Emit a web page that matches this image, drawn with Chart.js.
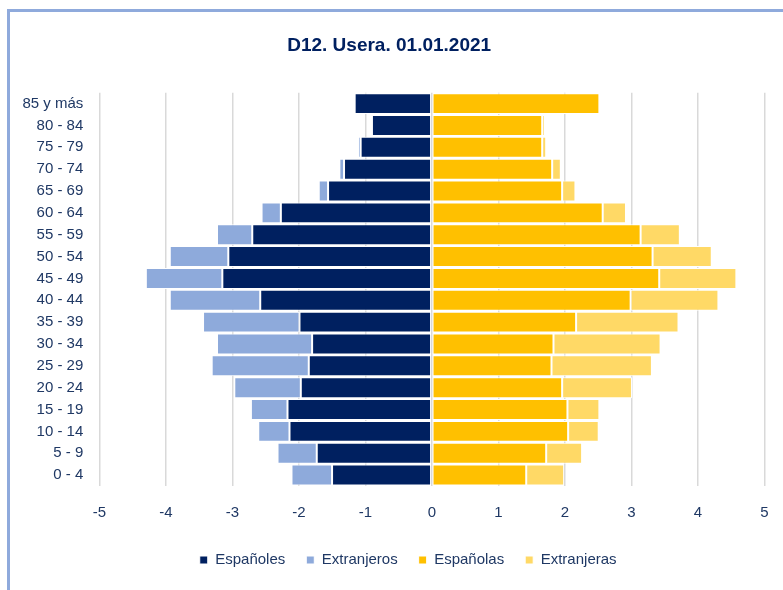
<!DOCTYPE html>
<html>
<head>
<meta charset="utf-8">
<script src="https://cdn.jsdelivr.net/npm/chart.js@4/dist/chart.umd.min.js"></script>
<style>
  html, body { margin: 0; padding: 0; background: #fff; overflow: hidden; }
  #wrap { position: relative; width: 783px; height: 590px; }
  #frame { position: absolute; left: 7px; top: 9px; width: 800px; height: 600px;
           border-top: 3px solid #8faadc; border-left: 3px solid #8faadc; }
  #chartBox { position: absolute; left: 0; top: 0; width: 783px; height: 590px; }
</style>
</head>
<body>
<div id="wrap">
  <div id="frame"></div>
  <div id="chartBox"><canvas id="pyramid"></canvas></div>
</div>
<script>
// age groups, bottom to top
const ageGroups = ["0 - 4", "5 - 9", "10 - 14", "15 - 19", "20 - 24", "25 - 29", "30 - 34",
  "35 - 39", "40 - 44", "45 - 49", "50 - 54", "55 - 59", "60 - 64", "65 - 69", "70 - 74",
  "75 - 79", "80 - 84", "85 y más"];

// % of population
const espanoles   = [1.50, 1.73, 2.14, 2.17, 1.97, 1.85, 1.80, 1.99, 2.58, 3.15, 3.06, 2.70, 2.27, 1.56, 1.32, 1.07, 0.90, 1.16];
const extranjeros = [0.61, 0.59, 0.47, 0.55, 1.00, 1.46, 1.43, 1.45, 1.36, 1.15, 0.88, 0.53, 0.29, 0.14, 0.07, 0.04, 0.01, 0.01];
const espanolas   = [1.42, 1.72, 2.05, 2.04, 1.96, 1.80, 1.83, 2.17, 2.99, 3.42, 3.32, 3.14, 2.57, 1.96, 1.81, 1.66, 1.66, 2.52];
const extranjeras = [0.57, 0.54, 0.46, 0.48, 1.05, 1.51, 1.61, 1.54, 1.32, 1.16, 0.89, 0.59, 0.35, 0.20, 0.13, 0.06, 0.04, 0.02];

const xTicks = [-5, -4, -3, -2, -1, 0, 1, 2, 3, 4, 5];

const navyText = "#1f3864";

function barSet(label, values, color) {
  return {
    label: label,
    data: values,
    backgroundColor: color,
    borderColor: "#ffffff",
    borderWidth: 1,
    borderSkipped: false,
    barPercentage: 0.96,
    categoryPercentage: 1.0
  };
}

// move the legend a bit to the right, like the original
const legendShift = {
  id: "legendShift",
  afterLayout(chart) {
    chart.legend.left += 19;
    chart.legend.right += 19;
  }
};

new Chart("pyramid", {
  type: "bar",
  data: {
    labels: ageGroups,
    datasets: [
      barSet("Españoles", espanoles.map(v => -v), "#002060"),
      barSet("Extranjeros", extranjeros.map(v => -v), "#8eaadb"),
      barSet("Españolas", espanolas, "#ffc000"),
      barSet("Extranjeras", extranjeras, "#ffd966")
    ]
  },
  options: {
    indexAxis: "y",
    responsive: true,
    maintainAspectRatio: false,
    animation: false,
    layout: { padding: { left: 14, right: 18.7, top: 0, bottom: 12.5 } },
    scales: {
      x: {
        stacked: true,
        min: -5,
        max: 5,
        afterBuildTicks: s => { s.ticks = xTicks.map(v => ({ value: v })); },
        afterFit: s => { s.height = 45.5; s.paddingRight = 0; s.paddingLeft = 0; },
        border: { display: false },
        grid: { color: "#d9d9d9", lineWidth: 1.5, drawTicks: false },
        ticks: {
          padding: 18,
          color: navyText,
          font: { family: "Liberation Sans", size: 15 }
        }
      },
      y: {
        stacked: true,
        reverse: true,
        afterFit: s => { s.width = 85.3; },
        border: { display: false },
        grid: { display: false, drawTicks: false },
        ticks: {
          padding: 16,
          autoSkip: false,
          color: navyText,
          font: { family: "Liberation Sans", size: 15 }
        }
      }
    },
    plugins: {
      title: {
        display: true,
        text: "D12. Usera. 01.01.2021",
        color: "#002060",
        font: { family: "Liberation Sans", size: 19, weight: "bold" },
        padding: { top: 34.6, bottom: 35.3 }
      },
      legend: {
        position: "bottom",
        labels: {
          boxWidth: 8,
          boxHeight: 8,
          padding: 21,
          color: navyText,
          font: { family: "Liberation Sans", size: 15 }
        }
      },
      tooltip: { enabled: false }
    }
  },
  plugins: [legendShift]
});
</script>
</body>
</html>
